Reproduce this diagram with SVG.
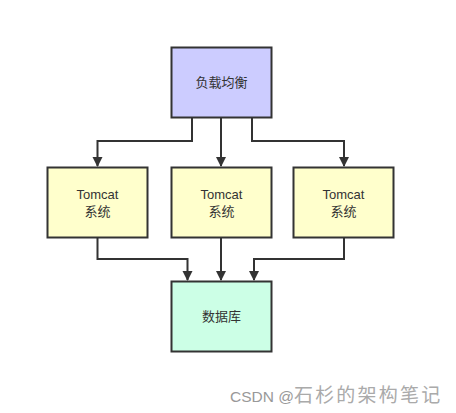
<svg xmlns="http://www.w3.org/2000/svg" width="456" height="413" viewBox="0 0 456 413">
<style>
.box{stroke:#333;stroke-width:2}
.lb{font-family:"Liberation Sans","Noto Sans CJK SC",sans-serif;font-size:13px;fill:#333;text-anchor:middle}
.edge{fill:none;stroke:#333;stroke-width:2}
.wm{font-family:"Liberation Sans","Noto Sans CJK SC",sans-serif;font-size:15.5px;fill:#999}
</style>
<defs>
<marker id="ah" markerWidth="10" markerHeight="12" refX="9" refY="5" orient="auto" markerUnits="userSpaceOnUse" viewBox="0 0 10 10">
<path d="M0,0 L10,5 L0,10 Z" fill="#333"/>
</marker>
</defs>
<rect width="456" height="413" fill="#fff"/>
<g id="connectors">
<path class="edge" d="M192,118 V141 H97.5 V166" marker-end="url(#ah)"/>
<path class="edge" d="M221,118 V166" marker-end="url(#ah)"/>
<path class="edge" d="M252,118 V141 H344 V166" marker-end="url(#ah)"/>
<path class="edge" d="M97.5,238 V259 H187.5 V280" marker-end="url(#ah)"/>
<path class="edge" d="M221,238 V280" marker-end="url(#ah)"/>
<path class="edge" d="M344,238 V259 H254 V280" marker-end="url(#ah)"/>
</g>
<g id="lb">
<rect class="box" x="171.5" y="47.5" width="100" height="70" fill="#ccccff"/>
<text class="lb" x="221.5" y="87">负载均衡</text>
</g>
<g id="t1">
<rect class="box" x="47.5" y="167.5" width="100" height="70" fill="#ffffcc"/>
<text class="lb" x="97.5" y="199">Tomcat</text>
<text class="lb" x="97.5" y="216">系统</text>
</g>
<g id="t2">
<rect class="box" x="171.5" y="167.5" width="100" height="70" fill="#ffffcc"/>
<text class="lb" x="221.5" y="199">Tomcat</text>
<text class="lb" x="221.5" y="216">系统</text>
</g>
<g id="t3">
<rect class="box" x="293.5" y="167.5" width="100" height="70" fill="#ffffcc"/>
<text class="lb" x="343.5" y="199">Tomcat</text>
<text class="lb" x="343.5" y="216">系统</text>
</g>
<g id="db">
<rect class="box" x="171.5" y="281.5" width="100" height="70" fill="#ccffe6"/>
<text class="lb" x="221.5" y="321">数据库</text>
</g>
<text class="wm" x="230" y="402">CSDN @<tspan font-size="19" letter-spacing="2.2" fill="#aaa">石杉的架构笔记</tspan></text>
</svg>
